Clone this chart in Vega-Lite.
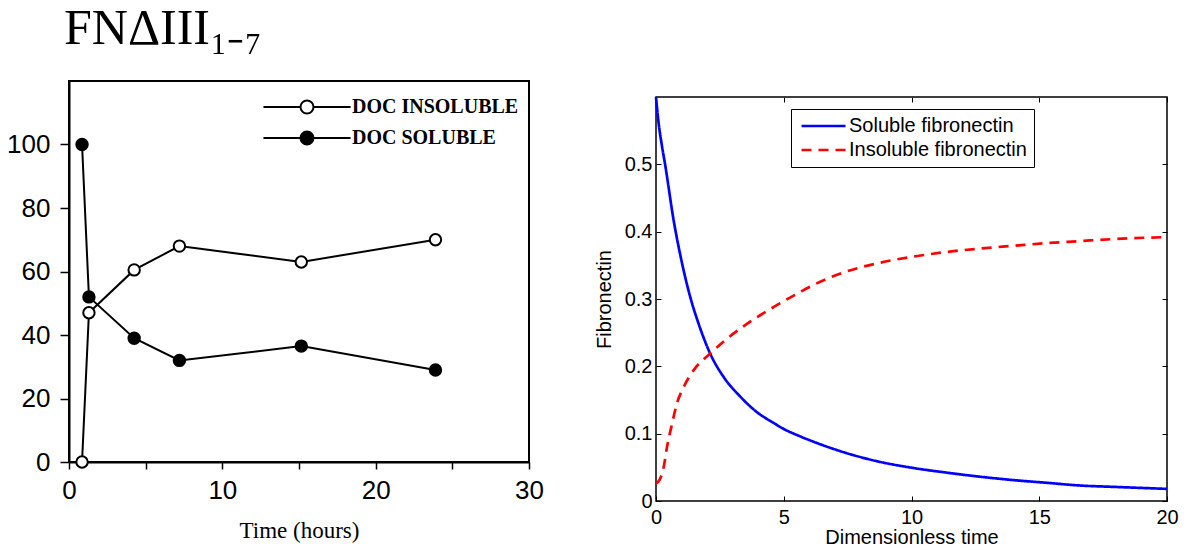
{
  "$schema": "https://vega.github.io/schema/vega-lite/v6.json",
  "background": "white",
  "padding": {"left": 5, "top": 3, "right": 5, "bottom": 5},
  "resolve": {"scale": {"color": "independent", "fill": "independent", "strokeDash": "independent"}},
  "datasets": {
    "exp": [
      {"time": 0.85, "value": 0, "series": "DOC INSOLUBLE"},
      {"time": 1.3, "value": 47, "series": "DOC INSOLUBLE"},
      {"time": 4.25, "value": 60.5, "series": "DOC INSOLUBLE"},
      {"time": 7.2, "value": 68, "series": "DOC INSOLUBLE"},
      {"time": 15.15, "value": 63, "series": "DOC INSOLUBLE"},
      {"time": 23.9, "value": 70, "series": "DOC INSOLUBLE"},
      {"time": 0.85, "value": 100, "series": "DOC SOLUBLE"},
      {"time": 1.3, "value": 52, "series": "DOC SOLUBLE"},
      {"time": 4.25, "value": 39, "series": "DOC SOLUBLE"},
      {"time": 7.2, "value": 32, "series": "DOC SOLUBLE"},
      {"time": 15.15, "value": 36.5, "series": "DOC SOLUBLE"},
      {"time": 23.9, "value": 29, "series": "DOC SOLUBLE"}
    ],
    "model": [
      {"t": 0, "value": 0.600, "series": "Soluble fibronectin"},
      {"t": 0.1, "value": 0.562, "series": "Soluble fibronectin"},
      {"t": 0.23, "value": 0.528, "series": "Soluble fibronectin"},
      {"t": 0.36, "value": 0.499, "series": "Soluble fibronectin"},
      {"t": 0.69, "value": 0.417, "series": "Soluble fibronectin"},
      {"t": 1.02, "value": 0.353, "series": "Soluble fibronectin"},
      {"t": 1.34, "value": 0.303, "series": "Soluble fibronectin"},
      {"t": 1.67, "value": 0.263, "series": "Soluble fibronectin"},
      {"t": 2.12, "value": 0.219, "series": "Soluble fibronectin"},
      {"t": 2.65, "value": 0.184, "series": "Soluble fibronectin"},
      {"t": 3.3, "value": 0.155, "series": "Soluble fibronectin"},
      {"t": 3.95, "value": 0.132, "series": "Soluble fibronectin"},
      {"t": 4.6, "value": 0.116, "series": "Soluble fibronectin"},
      {"t": 5.0, "value": 0.107, "series": "Soluble fibronectin"},
      {"t": 5.58, "value": 0.097, "series": "Soluble fibronectin"},
      {"t": 6.17, "value": 0.088, "series": "Soluble fibronectin"},
      {"t": 7.47, "value": 0.071, "series": "Soluble fibronectin"},
      {"t": 8.78, "value": 0.058, "series": "Soluble fibronectin"},
      {"t": 10.08, "value": 0.049, "series": "Soluble fibronectin"},
      {"t": 11.4, "value": 0.042, "series": "Soluble fibronectin"},
      {"t": 12.7, "value": 0.036, "series": "Soluble fibronectin"},
      {"t": 14.0, "value": 0.031, "series": "Soluble fibronectin"},
      {"t": 15.3, "value": 0.027, "series": "Soluble fibronectin"},
      {"t": 16.6, "value": 0.023, "series": "Soluble fibronectin"},
      {"t": 17.9, "value": 0.021, "series": "Soluble fibronectin"},
      {"t": 20, "value": 0.018, "series": "Soluble fibronectin"},
      {"t": 0, "value": 0.026, "series": "Insoluble fibronectin"},
      {"t": 0.15, "value": 0.032, "series": "Insoluble fibronectin"},
      {"t": 0.3, "value": 0.05, "series": "Insoluble fibronectin"},
      {"t": 0.43, "value": 0.08, "series": "Insoluble fibronectin"},
      {"t": 0.63, "value": 0.115, "series": "Insoluble fibronectin"},
      {"t": 0.82, "value": 0.145, "series": "Insoluble fibronectin"},
      {"t": 1.08, "value": 0.169, "series": "Insoluble fibronectin"},
      {"t": 1.47, "value": 0.194, "series": "Insoluble fibronectin"},
      {"t": 2.12, "value": 0.219, "series": "Insoluble fibronectin"},
      {"t": 2.78, "value": 0.241, "series": "Insoluble fibronectin"},
      {"t": 3.56, "value": 0.263, "series": "Insoluble fibronectin"},
      {"t": 4.6, "value": 0.288, "series": "Insoluble fibronectin"},
      {"t": 5.58, "value": 0.309, "series": "Insoluble fibronectin"},
      {"t": 6.17, "value": 0.321, "series": "Insoluble fibronectin"},
      {"t": 7.47, "value": 0.341, "series": "Insoluble fibronectin"},
      {"t": 8.78, "value": 0.354, "series": "Insoluble fibronectin"},
      {"t": 10.08, "value": 0.363, "series": "Insoluble fibronectin"},
      {"t": 11.4, "value": 0.370, "series": "Insoluble fibronectin"},
      {"t": 12.7, "value": 0.375, "series": "Insoluble fibronectin"},
      {"t": 14.0, "value": 0.379, "series": "Insoluble fibronectin"},
      {"t": 15.3, "value": 0.383, "series": "Insoluble fibronectin"},
      {"t": 16.6, "value": 0.386, "series": "Insoluble fibronectin"},
      {"t": 17.9, "value": 0.389, "series": "Insoluble fibronectin"},
      {"t": 20, "value": 0.392, "series": "Insoluble fibronectin"}
    ],
    "empty": []
  },
  "spacing": 48,
  "hconcat": [
    {
      "width": 460,
      "height": 381,
      "view": {"stroke": "black", "strokeWidth": 2},
      "title": {"text": "FNΔIII₁₋₇", "anchor": "start", "frame": "group", "dx": -5, "font": "Liberation Serif", "fontSize": 50, "fontWeight": "normal", "color": "black", "offset": 27},
      "data": {"name": "exp"},
      "layer": [
        {
          "mark": {"type": "line", "color": "black", "strokeWidth": 2},
          "encoding": {
            "x": {"field": "time", "type": "quantitative", "scale": {"domain": [0, 30], "nice": false},
              "axis": {"values": [0, 5, 10, 15, 20, 25, 30], "labelExpr": "datum.value % 10 === 0 ? datum.label : ''", "labelFlush": false,
                "title": "Time (hours)", "titleFont": "Liberation Serif", "titleFontSize": 23, "titleFontWeight": "normal", "titleColor": "black", "titlePadding": 16,
                "labelFont": "Liberation Sans", "labelFontSize": 26, "labelColor": "black", "labelPadding": 8,
                "tickSize": 7, "tickColor": "black", "tickWidth": 1.5, "domainColor": "black", "domainWidth": 2, "grid": false}},
            "y": {"field": "value", "type": "quantitative", "scale": {"domain": [0, 120], "nice": false},
              "axis": {"values": [0, 10, 20, 30, 40, 50, 60, 70, 80, 90, 100, 110], "labelExpr": "datum.value % 20 === 0 ? datum.label : ''",
                "title": null, "labelFont": "Liberation Sans", "labelFontSize": 26, "labelColor": "black", "labelPadding": 10,
                "tickSize": 9, "tickColor": "black", "tickWidth": 1.5, "domainColor": "black", "domainWidth": 2, "grid": false}},
            "detail": {"field": "series", "type": "nominal"}
          }
        },
        {
          "mark": {"type": "point", "shape": "circle", "size": 130, "filled": true, "stroke": "black", "strokeWidth": 2, "opacity": 1},
          "encoding": {
            "x": {"field": "time", "type": "quantitative"},
            "y": {"field": "value", "type": "quantitative"},
            "fill": {"field": "series", "type": "nominal",
              "scale": {"domain": ["DOC INSOLUBLE", "DOC SOLUBLE"], "range": ["white", "black"]},
              "legend": {"title": null, "orient": "none", "legendX": 228, "legendY": 16, "padding": 0,
                "symbolType": "M-6.7,0H-1M1,0H6.7M1,0A1,1,0,1,1,-1,0A1,1,0,1,1,1,0Z", "symbolSize": 169,
                "symbolStrokeColor": "black", "symbolStrokeWidth": 2,
                "labelFont": "Liberation Serif", "labelFontSize": 20, "labelFontWeight": "bold", "labelColor": "black",
                "labelOffset": 35, "rowPadding": 9, "labelLimit": 300}}
          }
        }
      ]
    },
    {
      "spacing": 0,
      "resolve": {"scale": {"color": "independent", "strokeDash": "independent"}},
      "vconcat": [
        {
          "width": 1,
          "height": 9,
          "view": {"stroke": null},
          "data": {"name": "empty"},
          "mark": "point",
          "encoding": {}
        },
        {
          "width": 511,
          "height": 404,
          "view": {"stroke": "black", "strokeWidth": 1.5},
          "data": {"name": "model"},
          "resolve": {"axis": {"x": "independent", "y": "independent"}},
          "encoding": {
            "color": {"field": "series", "type": "nominal",
              "scale": {"domain": ["Soluble fibronectin", "Insoluble fibronectin"], "range": ["#0000ff", "#ff0000"]},
              "legend": {"title": null, "orient": "none", "legendX": 135, "legendY": 12, "fillColor": "white", "strokeColor": "black", "padding": 7,
                "symbolType": "M-1,0H5.77", "symbolSize": 169, "symbolStrokeWidth": 2.5,
                "labelFont": "Liberation Sans", "labelFontSize": 20, "labelColor": "black", "labelOffset": 31, "rowPadding": 4, "labelLimit": 300}},
            "strokeDash": {"field": "series", "type": "nominal",
              "scale": {"domain": ["Soluble fibronectin", "Insoluble fibronectin"], "range": [[1, 0], [10, 7]]},
              "legend": {"title": null, "orient": "none", "legendX": 135, "legendY": 12, "fillColor": "white", "strokeColor": "black", "padding": 7,
                "symbolType": "M-1,0H5.77", "symbolSize": 169, "symbolStrokeWidth": 2.5,
                "labelFont": "Liberation Sans", "labelFontSize": 20, "labelColor": "black", "labelOffset": 31, "rowPadding": 4, "labelLimit": 300}}
          },
          "layer": [
            {
              "transform": [{"filter": "datum.series === 'Soluble fibronectin'"}],
              "mark": {"type": "line", "strokeWidth": 2.7, "interpolate": "monotone"},
              "encoding": {
                "x": {"field": "t", "type": "quantitative", "scale": {"domain": [0, 20], "nice": false},
                  "axis": {"values": [0, 5, 10, 15, 20], "format": "~g", "labelFlush": false, "title": "Dimensionless time",
                    "titleFont": "Liberation Sans", "titleFontSize": 20, "titleFontWeight": "normal", "titleColor": "black", "titlePadding": 0,
                    "labelFont": "Liberation Sans", "labelFontSize": 20, "labelColor": "black", "labelPadding": 11,
                    "tickSize": -5, "tickColor": "black", "domain": false, "grid": false}},
                "y": {"field": "value", "type": "quantitative", "scale": {"domain": [0, 0.6], "nice": false},
                  "axis": {"values": [0, 0.1, 0.2, 0.3, 0.4, 0.5], "format": "~g", "title": "Fibronectin",
                    "titleFont": "Liberation Sans", "titleFontSize": 20, "titleFontWeight": "normal", "titleColor": "black", "titlePadding": 10,
                    "labelFont": "Liberation Sans", "labelFontSize": 20, "labelColor": "black", "labelPadding": 9,
                    "tickSize": -5, "tickColor": "black", "domain": false, "grid": false}}
              }
            },
            {
              "transform": [{"filter": "datum.series === 'Insoluble fibronectin'"}],
              "mark": {"type": "line", "strokeWidth": 2.7, "interpolate": "monotone"},
              "encoding": {
                "x": {"field": "t", "type": "quantitative",
                  "axis": {"orient": "top", "values": [0, 5, 10, 15, 20], "labels": false, "title": null, "tickSize": -5, "tickColor": "black", "domain": false, "grid": false}},
                "y": {"field": "value", "type": "quantitative",
                  "axis": {"orient": "right", "values": [0, 0.1, 0.2, 0.3, 0.4, 0.5], "labels": false, "title": null, "tickSize": -5, "tickColor": "black", "domain": false, "grid": false}}
              }
            }
          ]
        }
      ]
    }
  ]
}
